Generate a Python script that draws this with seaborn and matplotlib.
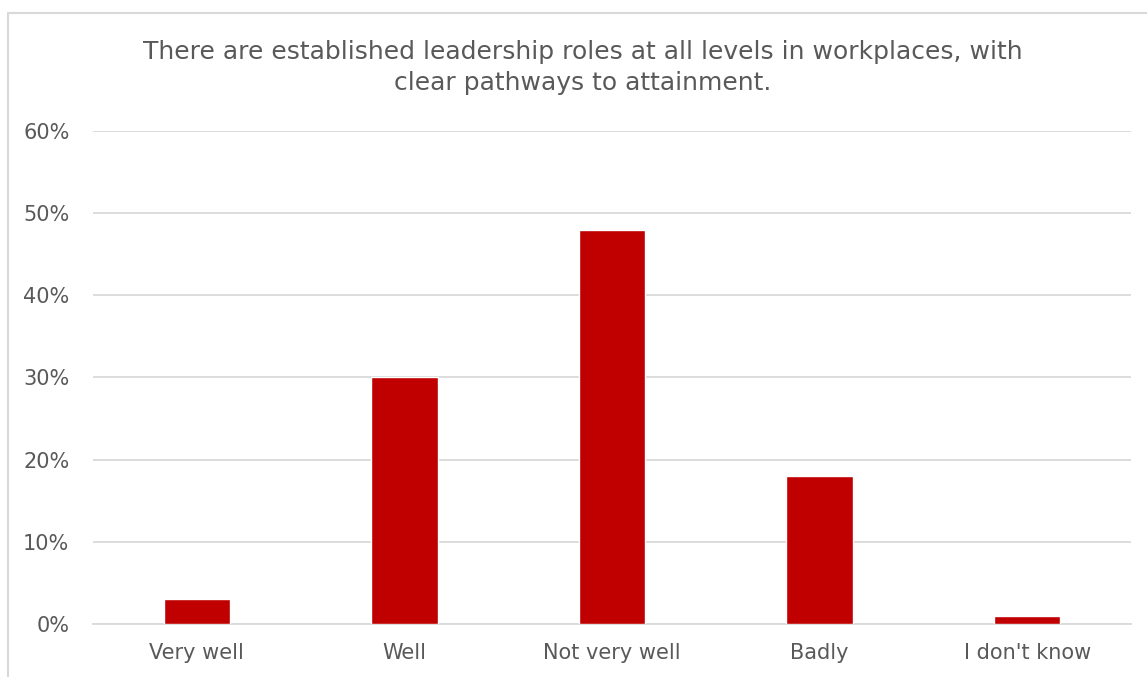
import matplotlib
matplotlib.use('Agg')
import matplotlib.pyplot as plt
import seaborn as sns
import pandas as pd
from matplotlib.patches import Rectangle
from matplotlib.ticker import PercentFormatter

categories = ['Very well', 'Well', 'Not very well', 'Badly', "I don't know"]
shares = [3, 30, 48, 18, 1]
yticks = [0, 10, 20, 30, 40, 50, 60]
title = 'There are established leadership roles at all levels in workplaces, with\nclear pathways to attainment.'

df = pd.DataFrame({'answer': categories, 'share': shares})

sns.set_theme(style='white')
plt.rcParams['font.family'] = ['DejaVu Sans']

fig = plt.figure(figsize=(11.47, 6.77), dpi=100)
ax = fig.add_axes([0.0811, 0.0783, 0.9049, 0.7282])

# frame round the chart (only top and left show in the crop)
fig.patches.append(Rectangle((8 / 1147, -0.1), 1.2, 1 - 13 / 677 + 0.1,
                             transform=fig.transFigure, fill=False,
                             edgecolor='#d9d9d9', linewidth=1.5))

sns.barplot(data=df, x='answer', y='share', color='#C00000', width=0.32,
            saturation=1, ax=ax, zorder=3)

ax.set_ylim(0, 60)
ax.set_yticks(yticks)
ax.yaxis.set_major_formatter(PercentFormatter(decimals=0))
ax.grid(axis='y', color='#d9d9d9', linewidth=1.3, zorder=0)
ax.set_axisbelow(True)
for s in ['top', 'right', 'left']:
    ax.spines[s].set_visible(False)
ax.spines['bottom'].set_color('#d9d9d9')
ax.spines['bottom'].set_linewidth(1.3)
ax.set_xlabel('')
ax.set_ylabel('')
ax.tick_params(axis='both', length=0, labelsize=15, labelcolor='#595959')
ax.tick_params(axis='x', pad=14)
ax.tick_params(axis='y', pad=17)

fig.text(0.508, 0.9, title, ha='center', va='center', fontsize=18,
         color='#595959', linespacing=1.38)

fig.savefig('out.png', dpi=100)
